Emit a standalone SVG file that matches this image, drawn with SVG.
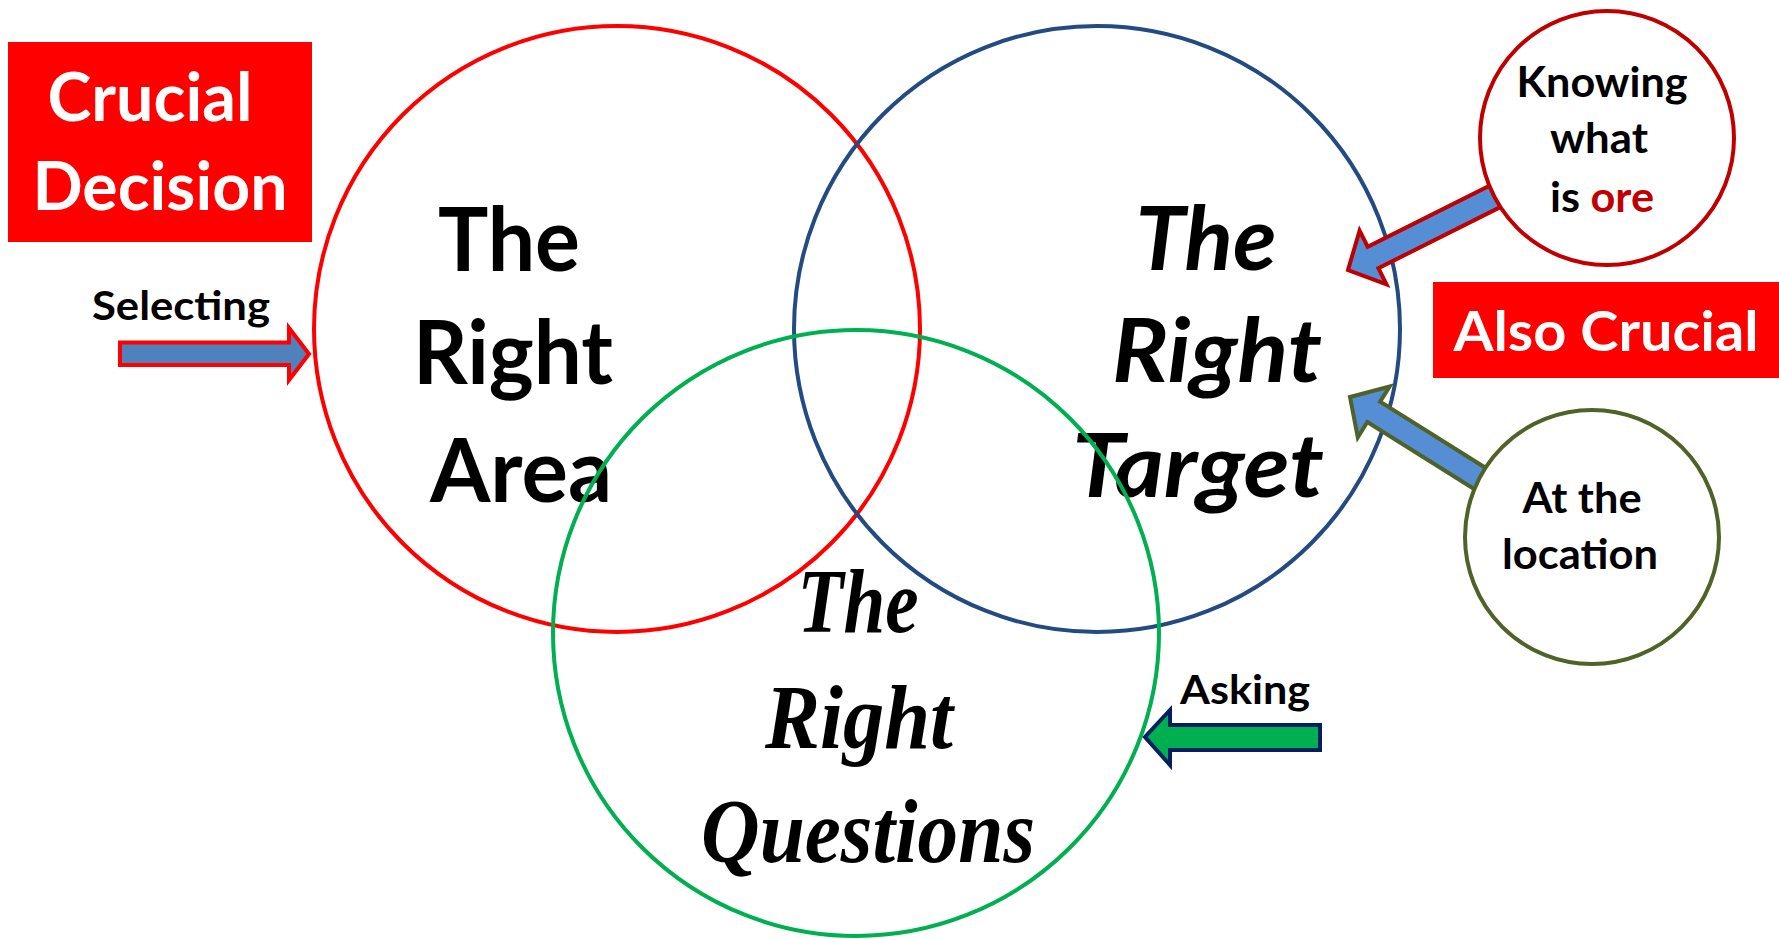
<svg xmlns="http://www.w3.org/2000/svg" width="1779" height="939" viewBox="0 0 1779 939">
<style>
.big{fill:none;stroke-width:4}
.lb{font-family:Lato,"Liberation Sans",sans-serif;font-weight:bold;text-anchor:middle}
.scr{font-family:"Liberation Serif",serif;font-weight:bold;font-style:italic;text-anchor:middle}
.wt{fill:#fff}
.arr{stroke-width:4;stroke-linejoin:miter}
</style>
<rect width="1779" height="939" fill="#fff"/>
<g id="area">
<text class="lb" font-size="88" x="509" y="271" textLength="142" lengthAdjust="spacingAndGlyphs">The</text>
<text class="lb" font-size="88" x="513" y="384" textLength="200" lengthAdjust="spacingAndGlyphs">Right</text>
<text class="lb" font-size="88" x="521" y="502" textLength="182" lengthAdjust="spacingAndGlyphs">Area</text>
<circle class="big" cx="617" cy="329" r="303" stroke="#FF0000"/>
</g>
<g id="target">
<text class="lb" font-size="88" font-style="italic" x="1206" y="270" textLength="141" lengthAdjust="spacingAndGlyphs">The</text>
<text class="lb" font-size="88" font-style="italic" x="1217" y="382" textLength="210" lengthAdjust="spacingAndGlyphs">Right</text>
<text class="lb" font-size="88" font-style="italic" x="1198" y="497" textLength="252" lengthAdjust="spacingAndGlyphs">Target</text>
<circle class="big" cx="1097" cy="329" r="303" stroke="#234B82"/>
</g>
<g id="questions">
<text class="scr" font-size="92" x="858" y="632" textLength="121" lengthAdjust="spacingAndGlyphs">The</text>
<text class="scr" font-size="92" x="859" y="748" textLength="188" lengthAdjust="spacingAndGlyphs">Right</text>
<text class="scr" font-size="92" x="868" y="862" textLength="334" lengthAdjust="spacingAndGlyphs">Questions</text>
<circle class="big" cx="856" cy="633" r="303" stroke="#00B050"/>
</g>
<g id="crucial-decision">
<rect x="8" y="42" width="304" height="200" fill="#FF0000"/>
<text class="lb wt" font-size="67" x="150" y="121" textLength="205" lengthAdjust="spacingAndGlyphs">Crucial</text>
<text class="lb wt" font-size="67" x="160" y="210" textLength="255" lengthAdjust="spacingAndGlyphs">Decision</text>
</g>
<g id="also-crucial">
<rect x="1433" y="282" width="346" height="96" fill="#FF0000"/>
<text class="lb wt" font-size="55" x="1606" y="351" textLength="305" lengthAdjust="spacingAndGlyphs">Also Crucial</text>
</g>
<g id="connectors">
<text class="lb" font-size="40" x="181" y="320" textLength="178" lengthAdjust="spacingAndGlyphs">Selecting</text>
<path class="arr" d="M120,342.5 L289,342.5 L289,328 L309,354 L289,380 L289,365 L120,365 Z" fill="#4F81BD" stroke="#FF0000"/>
<text class="lb" font-size="41" x="1245" y="704" textLength="130" lengthAdjust="spacingAndGlyphs">Asking</text>
<path class="arr" d="M1320,725 L1170,725 L1170,710 L1145,737 L1170,765 L1170,750 L1320,750 Z" fill="#00B050" stroke="#002060"/>
<path class="arr" transform="translate(1348,270) rotate(153.4)" d="M-190,-12 L-28,-12 L-28,-30 L0,0 L-28,30 L-28,12 L-190,12 Z" fill="#558ED5" stroke="#C00000"/>
<path class="arr" transform="translate(1350,397) rotate(212.1)" d="M-180,-12 L-28,-12 L-28,-30 L0,0 L-28,30 L-28,12 L-180,12 Z" fill="#558ED5" stroke="#4F6228"/>
</g>
<g id="knowing">
<circle cx="1607" cy="138" r="127" fill="#fff" stroke="#C00000" stroke-width="4"/>
<text class="lb" font-size="42" x="1602" y="97" textLength="171" lengthAdjust="spacingAndGlyphs">Knowing</text>
<text class="lb" font-size="42" x="1599" y="153" textLength="98" lengthAdjust="spacingAndGlyphs">what</text>
<text class="lb" font-size="42" x="1602" y="212" textLength="104" lengthAdjust="spacingAndGlyphs">is <tspan fill="#C00000">ore</tspan></text>
</g>
<g id="location">
<circle cx="1592" cy="537" r="127" fill="#fff" stroke="#4F6228" stroke-width="4"/>
<text class="lb" font-size="42" x="1582" y="513" textLength="119" lengthAdjust="spacingAndGlyphs">At the</text>
<text class="lb" font-size="42" x="1580" y="569" textLength="156" lengthAdjust="spacingAndGlyphs">location</text>
</g>
</svg>
